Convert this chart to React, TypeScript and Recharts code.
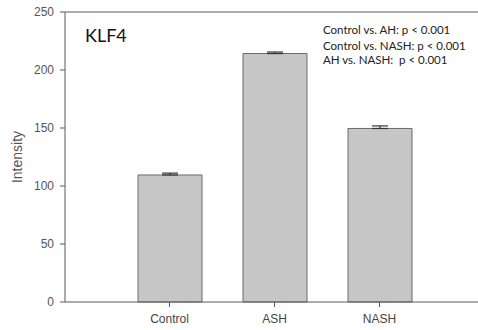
import { BarChart, Bar, XAxis, YAxis, ErrorBar, ReferenceLine } from "recharts";

const groups = ["Control", "ASH", "NASH"];
const intensity = [109.5, 214.2, 149.6];
const sem = [1.6, 1.3, 2.2];
const yTicks = [0, 50, 100, 150, 200, 250];
const stats = [
  "Control vs. AH: p < 0.001",
  "Control vs. NASH: p < 0.001",
  "AH vs. NASH:  p < 0.001",
];

const data = groups.map((g, i) => ({ group: g, value: intensity[i], err: [0, sem[i]] }));

const axisGray = "#5a5a5a";

export default function App() {
  return (
    <div
      style={{
        position: "absolute",
        left: 0,
        top: 0,
        width: 478,
        height: 330,
        overflow: "hidden",
        background: "#fff",
      }}
    >
      <BarChart
        width={500}
        height={330}
        data={data}
        margin={{ top: 12, right: 16, bottom: 0, left: 0 }}
      >
        <XAxis
          dataKey="group"
          height={28}
          padding={{ left: 52, right: 52 }}
          stroke={axisGray}
          tickSize={5}
          tickMargin={7}
          tick={{ fill: "#444", fontSize: 12, fontFamily: "Liberation Sans, Arial" }}
        />
        <YAxis
          width={65}
          domain={[0, 250]}
          ticks={yTicks}
          stroke={axisGray}
          tickSize={5}
          tickMargin={6}
          tick={{ fill: "#555", fontSize: 12, fontFamily: "Liberation Sans, Arial" }}
          label={{
            value: "Intensity",
            angle: -90,
            position: "insideLeft",
            offset: 17,
            style: { fill: "#555", fontSize: 14, fontFamily: "Liberation Sans, Arial", textAnchor: "middle" },
          }}
        />
        <ReferenceLine y={250} stroke={axisGray} strokeWidth={1} />
        <Bar
          dataKey="value"
          barSize={64}
          fill="#c6c6c6"
          stroke="#6a6a6a"
          strokeWidth={1}
          isAnimationActive={false}
        >
          <ErrorBar dataKey="err" width={8} stroke="#333" strokeWidth={1.2} direction="y" />
        </Bar>
        <text x={85} y={42} fontSize={18} fontFamily="Lato, Liberation Sans" fill="#111">
          KLF4
        </text>
        {stats.map((s, i) => (
          <text
            key={s}
            x={323}
            y={[34, 50, 64][i]}
            fontSize={11.5}
            fontFamily="Lato, Liberation Sans"
            fill="#222"
            style={{ whiteSpace: "pre" }}
          >
            {s}
          </text>
        ))}
      </BarChart>
    </div>
  );
}
